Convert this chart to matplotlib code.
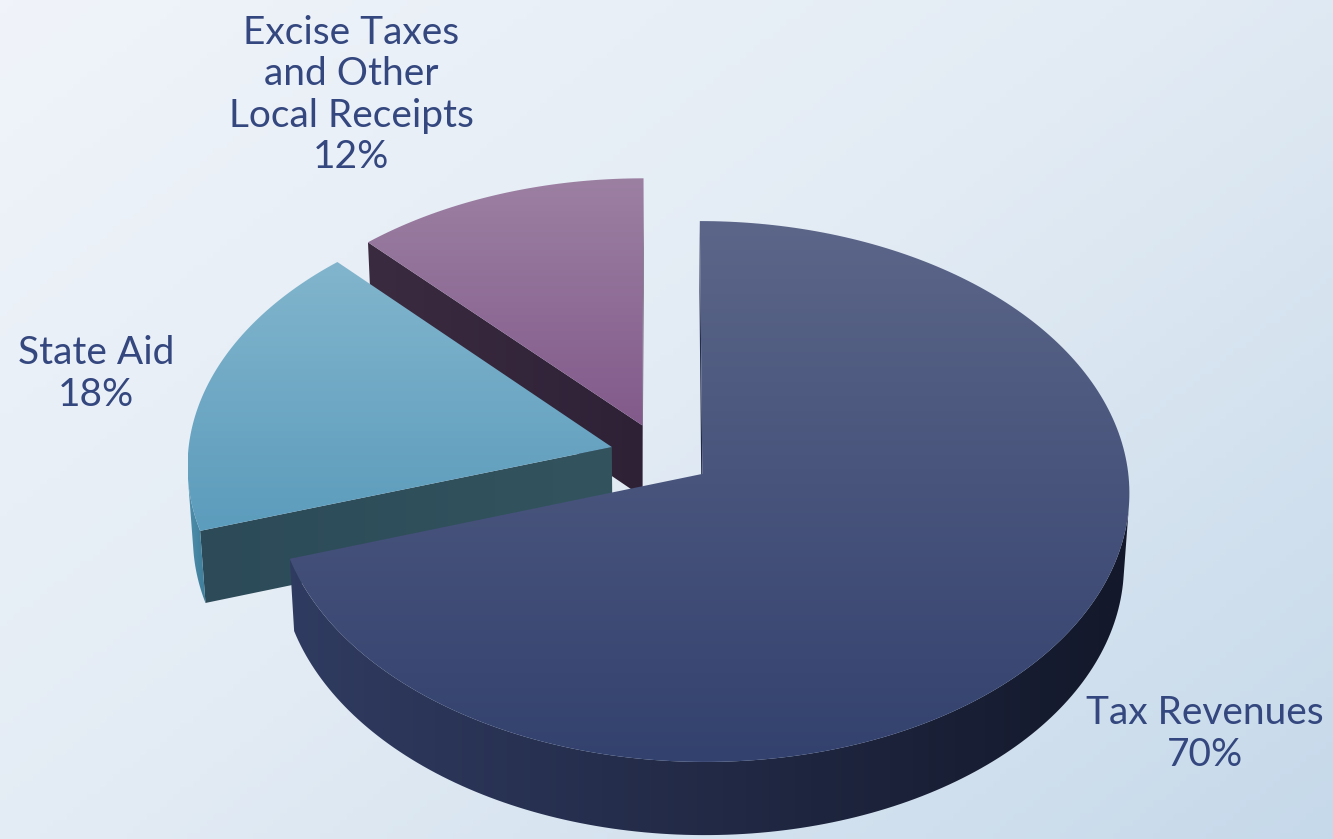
import numpy as np
import matplotlib.pyplot as plt
from matplotlib.patches import Polygon
from matplotlib.colors import LinearSegmentedColormap

# revenue sources and their share of the total (percent)
labels = ['Tax Revenues', 'State Aid', 'Excise Taxes\nand Other\nLocal Receipts']
shares = [70, 18, 12]

# (top, bottom) colours of each slice's upper face
top_colors = [('#5c6689', '#33416e'), ('#82b5cd', '#5c9cbc'), ('#9c80a2', '#825a8b')]
# (left, right) colours of the outer wall and of the cut faces
wall_colors = [('#303b61', '#13182a'), ('#4f8fab', '#3f7d99'), ('#3c2c42', '#2c1f33')]
cut_colors = [('#2a3456', '#1c2340'), ('#2c4a58', '#33545f'), ('#3b2b41', '#2e2136')]

text_color = '#34477e'
label_pos = [(1205, 734), (96, 374), (351, 95)]

ELEV = np.radians(39)
DIST = 12.0
SCALE = 424 * DIST
CX, CY = 661, 455
EXPLODE = 0.12
DEPTH = 0.22
N_ARC = 240

cam = np.array([0.0, -DIST * np.cos(ELEV), DIST * np.sin(ELEV)])


def project(pts):
    """Perspective projection of (n, 3) points to pixel coordinates."""
    rel = pts - cam
    depth = rel[:, 1] * np.cos(ELEV) - rel[:, 2] * np.sin(ELEV)
    u = rel[:, 0] / depth
    v = (rel[:, 1] * np.sin(ELEV) + rel[:, 2] * np.cos(ELEV)) / depth
    return np.column_stack([CX + SCALE * u, CY - SCALE * v])


def gradient_fill(ax, xy, c0, c1, z, horizontal=False):
    patch = Polygon(xy, closed=True, facecolor='none', edgecolor='none')
    ax.add_patch(patch)
    xmin, ymin = xy.min(axis=0)
    xmax, ymax = xy.max(axis=0)
    cmap = LinearSegmentedColormap.from_list('g', [c0, c1])
    ramp = np.linspace(0, 1, 256)
    img = ramp[None, :] if horizontal else ramp[:, None]
    im = ax.imshow(img, cmap=cmap, extent=(xmin, xmax + 0.5, ymax + 0.5, ymin),
                   aspect='auto', origin='upper', interpolation='bilinear', zorder=z)
    im.set_clip_path(patch)


fig = plt.figure(figsize=(13.33, 8.39), dpi=100)
ax = fig.add_axes([0, 0, 1, 1])
ax.set_xlim(0, 1333)
ax.set_ylim(839, 0)
ax.axis('off')

# soft diagonal background
gx, gy = np.meshgrid(np.linspace(0, 1, 200), np.linspace(0, 1, 130))
bg_cmap = LinearSegmentedColormap.from_list('bg', ['#f0f4fa', '#e2ebf4', '#c6d9ea'])
ax.imshow(0.55 * gx + 0.45 * gy, cmap=bg_cmap, extent=(0, 1333, 839, 0),
          aspect='auto', zorder=0)

# slice angles, clockwise from 12 o'clock
bounds = np.concatenate([[0], np.cumsum(shares)]) / sum(shares) * 2 * np.pi
draw_order = [2, 1, 0]
z = 1
for i in draw_order:
    t0, t1 = bounds[i], bounds[i + 1]
    mid = (t0 + t1) / 2
    apex = np.array([EXPLODE * np.sin(mid), EXPLODE * np.cos(mid), 0.0])
    th = np.linspace(t0, t1, N_ARC)
    rim = apex + np.column_stack([np.sin(th), np.cos(th), np.zeros_like(th)])
    low = rim - [0, 0, DEPTH]
    apex_low = apex - [0, 0, DEPTH]

    # cut faces, only those turned toward the camera
    for ang, sign, end in [(t0, -1, rim[0]), (t1, 1, rim[-1])]:
        normal = sign * np.array([np.cos(ang), -np.sin(ang), 0.0])
        if normal @ (cam - end) > 0:
            face = project(np.array([apex, end, end - [0, 0, DEPTH], apex_low]))
            gradient_fill(ax, face, *cut_colors[i], z, horizontal=True)
            z += 1

    # outer wall, front part only
    normals = np.column_stack([np.sin(th), np.cos(th), np.zeros_like(th)])
    seen = np.einsum('ij,ij->i', normals, cam - rim) > 0
    idx = np.flatnonzero(seen)
    if idx.size > 1:
        runs = np.split(idx, np.flatnonzero(np.diff(idx) > 1) + 1)
        for run in runs:
            if run.size < 2:
                continue
            wall = project(np.vstack([rim[run], low[run][::-1]]))
            gradient_fill(ax, wall, *wall_colors[i], z, horizontal=True)
            z += 1

    # upper face
    top = project(np.vstack([apex, rim]))
    gradient_fill(ax, top, *top_colors[i], z)
    z += 1

for name, share, (lx, ly) in zip(labels, shares, label_pos):
    ax.text(lx, ly, f'{name}\n{share}%', ha='center', va='center',
            fontsize=28, color=text_color, family='Lato', fontweight='normal',
            linespacing=1.18, zorder=z)

fig.savefig('out.png', dpi=100)
